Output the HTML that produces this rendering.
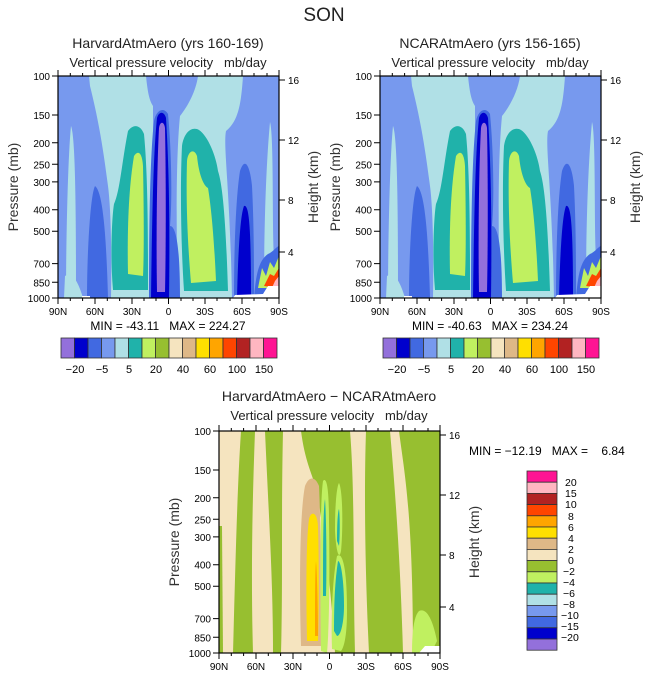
<!DOCTYPE html>
<html><head><meta charset="utf-8"><style>
html,body{margin:0;padding:0;background:#fff;}
svg{display:block;font-family:"Liberation Sans",sans-serif;}
</style></head><body>
<svg width="648" height="676" viewBox="0 0 648 676" xmlns="http://www.w3.org/2000/svg">
<defs>
<clipPath id="cp"><rect x="0" y="0" width="221" height="222"/></clipPath>
<g id="topfield">
 <rect x="0" y="0" width="221" height="222" fill="#7799EE"/>
 <!-- powder regions -->
 <path d="M31,0 L88,0 C90,20 92,25 95,30 L95,222 L53,222 C54,160 52,125 50,110 C46,80 42,50 32,10 Z" fill="#B0E0E6"/>
 <path d="M140,0 L185,0 C183,30 180,45 168,55 C165,70 172,110 174,222 L120,222 C118,150 118,80 122,40 C130,30 138,15 140,0 Z" fill="#B0E0E6"/>
 <path d="M8,222 C8,160 10,80 13,50 C17,60 18,120 18,222 Z" fill="#B0E0E6"/>
 <path d="M6,222 L7,200 C14,195 20,205 25,222 Z" fill="#B0E0E6"/>
 <path d="M206,222 C206,150 208,90 212,46 C216,60 214,150 216,180 L210,222 Z" fill="#B0E0E6"/>
 <!-- left blue strip -->
 <path d="M29,222 C29,180 32,120 37,110 C44,115 48,150 50,222 Z" fill="#4169E1"/>
 <!-- left teal/green -->
 <path d="M55,214 C52,180 54,140 56,128 C62,115 64,85 70,55 C75,48 82,48 86,58 C90,100 90,160 90,214 Z" fill="#20B2AA"/>
 <path d="M70,198 C69,150 71,110 76,80 C80,74 84,76 85,90 C86,140 86,180 85,200 Z" fill="#C0F060"/>
 <!-- center column -->
 <path d="M91,222 C91,150 92,80 96,45 C98,35 105,30 110,38 C114,80 114,130 112,150 C118,150 122,170 122,222 Z" fill="#4169E1"/>
 <path d="M93,222 C94,150 95,80 99,42 C101,35 106,35 108,42 C111,90 112,150 111,222 Z" fill="#0000CD"/>
 <path d="M99,216 C98,160 99,90 101,52 C102,45 106,45 107,52 C108,100 108,170 107,216 Z" fill="#9370DB"/>
 <!-- right teal/green -->
 <path d="M126,215 C123,170 122,110 124,70 C126,56 134,50 141,54 C150,60 158,80 160,95 C165,110 168,150 170,215 Z" fill="#20B2AA"/>
 <path d="M133,207 C129,160 128,120 129,85 C130,75 136,72 139,80 C141,100 146,110 150,112 C153,130 156,160 158,205 Z" fill="#C0F060"/>
 <!-- right blue -->
 <path d="M176,222 C176,170 178,120 182,95 C187,80 192,90 194,110 C196,150 196,190 196,222 Z" fill="#4169E1"/>
 <path d="M179,222 C180,180 182,140 186,130 C191,128 193,150 193,222 Z" fill="#0000CD"/>
 <path d="M196,222 C198,200 200,185 210,178 C215,176 219,170 221,170 L221,222 Z" fill="#4169E1"/>
 <path d="M200,212 L204,192 L208,200 L212,186 L216,192 L221,180 L221,205 L214,212 Z" fill="#C0F060"/>
 <path d="M206,210 L212,198 L216,200 L221,192 L221,212 Z" fill="#FF4500"/>
 <path d="M213,214 L217,205 L221,200 L221,214 Z" fill="#FFB6C1"/>
 <path d="M175,222 L177,219 L205,218 L210,210 L221,210 L221,222 Z" fill="#fff"/>
 <path d="M24,222 L24,220 L32,220 L32,222 Z" fill="#fff"/>
</g>
<g id="axes">
 <rect x="0" y="0" width="221" height="222" fill="none" stroke="#000" stroke-width="1.2"/>
 <path d="M0,222v6M37,222v6M74,222v6M110.5,222v6M147,222v6M184,222v6M221,222v6M0,0v-6M37,0v-6M74,0v-6M110.5,0v-6M147,0v-6M184,0v-6M221,0v-6
 M12.3,222v3M24.6,222v3M49.3,222v3M61.6,222v3M86,222v3M98,222v3M123,222v3M135,222v3M159,222v3M172,222v3M196,222v3M209,222v3
 M12.3,0v-3M24.6,0v-3M49.3,0v-3M61.6,0v-3M86,0v-3M98,0v-3M123,0v-3M135,0v-3M159,0v-3M172,0v-3M196,0v-3M209,0v-3
 M0,0h-6M0,39h-6M0,66.8h-6M0,88.3h-6M0,105.9h-6M0,133.7h-6M0,155.2h-6M0,187.6h-6M0,206.3h-6M0,222h-6
 M221,4h6M221,64h6M221,124h6M221,176h6" stroke="#000" stroke-width="1" fill="none"/>
</g>
<g id="xl" font-size="10" fill="#000" text-anchor="middle">
 <text x="0" y="239">90N</text><text x="37" y="239">60N</text><text x="74" y="239">30N</text><text x="110.5" y="239">0</text><text x="147" y="239">30S</text><text x="184" y="239">60S</text><text x="221" y="239">90S</text>
</g>
<g id="yl" font-size="10" fill="#000" text-anchor="end">
 <text x="-8" y="4">100</text><text x="-8" y="43">150</text><text x="-8" y="70.8">200</text><text x="-8" y="92.3">250</text><text x="-8" y="109.9">300</text><text x="-8" y="137.7">400</text><text x="-8" y="159.2">500</text><text x="-8" y="191.6">700</text><text x="-8" y="210.3">850</text><text x="-8" y="226">1000</text>
</g>
<g id="hl" font-size="10" fill="#000">
 <text x="230" y="8">16</text><text x="230" y="68">12</text><text x="230" y="128">8</text><text x="230" y="180">4</text>
</g>
<g id="hcb" stroke="#333" stroke-width="0.8">
 <rect x="0" width="13.5" height="20" fill="#9370DB"/><rect x="13.5" width="13.5" height="20" fill="#0000CD"/><rect x="27" width="13.5" height="20" fill="#4169E1"/><rect x="40.5" width="13.5" height="20" fill="#7799EE"/><rect x="54" width="13.5" height="20" fill="#B0E0E6"/><rect x="67.5" width="13.5" height="20" fill="#20B2AA"/><rect x="81" width="13.5" height="20" fill="#C0F060"/><rect x="94.5" width="13.5" height="20" fill="#97BF30"/><rect x="108" width="13.5" height="20" fill="#F5E4BF"/><rect x="121.5" width="13.5" height="20" fill="#DEB887"/><rect x="135" width="13.5" height="20" fill="#FFDF00"/><rect x="148.5" width="13.5" height="20" fill="#FFA500"/><rect x="162" width="13.5" height="20" fill="#FF4500"/><rect x="175.5" width="13.5" height="20" fill="#B22222"/><rect x="189" width="13.5" height="20" fill="#FFB6C1"/><rect x="202.5" width="13.5" height="20" fill="#FF1493"/>
</g>
</defs>

<text x="324" y="21" font-size="19" text-anchor="middle" fill="#222">SON</text>

<!-- Top-left -->
<text x="168" y="48" font-size="14" text-anchor="middle" fill="#222">HarvardAtmAero (yrs 160-169)</text>
<text x="168" y="67" font-size="13" text-anchor="middle" fill="#222">Vertical pressure velocity&#160;&#160;&#160;mb/day</text>
<g transform="translate(58,76)">
 <use href="#topfield" clip-path="url(#cp)"/>
 <use href="#axes"/><use href="#xl"/><use href="#yl"/><use href="#hl"/>
 <text x="110" y="254" font-size="12" text-anchor="middle">MIN = -43.11&#160;&#160;&#160;MAX = 224.27</text>
</g>
<text transform="translate(18,187) rotate(-90)" font-size="14" text-anchor="middle" fill="#333">Pressure (mb)</text>
<text transform="translate(318,187) rotate(-90)" font-size="14" text-anchor="middle" fill="#333">Height (km)</text>
<g transform="translate(61,338)"><use href="#hcb"/></g>
<g font-size="11" text-anchor="middle" fill="#000">
 <text x="75" y="373">−20</text><text x="102" y="373">−5</text><text x="129" y="373">5</text><text x="156" y="373">20</text><text x="183" y="373">40</text><text x="210" y="373">60</text><text x="237" y="373">100</text><text x="264" y="373">150</text>
</g>

<!-- Top-right -->
<text x="490" y="48" font-size="14" text-anchor="middle" fill="#222">NCARAtmAero (yrs 156-165)</text>
<text x="490" y="67" font-size="13" text-anchor="middle" fill="#222">Vertical pressure velocity&#160;&#160;&#160;mb/day</text>
<g transform="translate(380,76)">
 <use href="#topfield" clip-path="url(#cp)"/>
 <use href="#axes"/><use href="#xl"/><use href="#yl"/><use href="#hl"/>
 <text x="110" y="254" font-size="12" text-anchor="middle">MIN = -40.63&#160;&#160;&#160;MAX = 234.24</text>
</g>
<text transform="translate(340,187) rotate(-90)" font-size="14" text-anchor="middle" fill="#333">Pressure (mb)</text>
<text transform="translate(640,187) rotate(-90)" font-size="14" text-anchor="middle" fill="#333">Height (km)</text>
<g transform="translate(383,338)"><use href="#hcb"/></g>
<g font-size="11" text-anchor="middle" fill="#000">
 <text x="397" y="373">−20</text><text x="424" y="373">−5</text><text x="451" y="373">5</text><text x="478" y="373">20</text><text x="505" y="373">40</text><text x="532" y="373">60</text><text x="559" y="373">100</text><text x="586" y="373">150</text>
</g>

<!-- Bottom -->
<text x="329" y="401" font-size="14" text-anchor="middle" fill="#222">HarvardAtmAero − NCARAtmAero</text>
<text x="329" y="420" font-size="13" text-anchor="middle" fill="#222">Vertical pressure velocity&#160;&#160;&#160;mb/day</text>
<g transform="translate(219,431)">
 <g clip-path="url(#cp)">
  <rect x="0" y="0" width="221" height="222" fill="#F5E4BF"/>
  <path d="M0,222 L0,95 L3,95 L4,222 Z" fill="#97BF30"/>
  <path d="M14,222 C16,150 18,60 22,0 L36,0 C33,80 32,150 34,222 Z" fill="#97BF30"/>
  <path d="M46,0 L64,0 C62,90 64,150 62,222 L54,222 C54,150 50,90 46,0 Z" fill="#97BF30"/>
  <path d="M82,0 L221,0 L221,222 L116,222 C112,150 104,100 98,60 C92,40 86,30 82,0 Z" fill="#97BF30"/>
  <path d="M131,0 L147,0 C145,60 146,140 150,222 L136,222 C134,150 136,60 131,0 Z" fill="#F5E4BF"/>
  <path d="M171,0 L180,0 C185,40 194,80 194,222 L184,222 C182,150 178,80 171,0 Z" fill="#F5E4BF"/>
  <path d="M82,215 C80,150 81,80 86,55 C90,45 96,45 100,55 C102,100 102,160 102,215 Z" fill="#DEB887"/>
  <path d="M88,210 C87,160 87,110 90,88 C92,80 98,80 99,95 C100,130 100,180 99,210 Z" fill="#FFDF00"/>
  <path d="M96,205 C96,170 96,140 97,130 C98,140 99,180 99,205 Z" fill="#FFA500"/>
  <path d="M102,220 C101,150 101,70 104,50 C108,45 110,60 110,90 C111,150 110,200 108,222 Z" fill="#C0F060"/>
  <path d="M104,165 C104,120 104,80 106,68 C107,80 108,130 107,165 Z" fill="#20B2AA"/>
  <path d="M113,218 C112,190 113,150 118,125 C124,120 128,140 128,180 C128,200 126,215 122,220 Z" fill="#C0F060"/>
  <path d="M115,200 C115,170 116,150 119,130 C122,130 125,150 125,175 C125,190 122,205 118,205 Z" fill="#20B2AA"/>
  <path d="M116,100 C116,70 118,55 120,52 C124,60 124,100 122,120 C120,130 117,120 116,100 Z" fill="#C0F060"/>
  <path d="M118,110 C118,90 119,80 120,78 C121,85 121,105 120,115 Z" fill="#20B2AA"/>
  <path d="M193,222 C193,200 195,185 200,180 C208,176 214,190 218,210 L212,222 Z" fill="#C0F060"/>
  <path d="M200,222 L206,215 L221,215 L221,222 Z" fill="#fff"/>
 </g>
 <use href="#axes"/><use href="#xl"/><use href="#yl"/><use href="#hl"/>
</g>
<text transform="translate(179,542) rotate(-90)" font-size="14" text-anchor="middle" fill="#333">Pressure (mb)</text>
<text transform="translate(479,542) rotate(-90)" font-size="14" text-anchor="middle" fill="#333">Height (km)</text>
<text x="469" y="455" font-size="12" fill="#000">MIN = −12.19&#160;&#160;&#160;MAX =&#160;&#160;&#160;&#160;6.84</text>
<g stroke="#333" stroke-width="0.8">
 <rect x="527" y="471" width="30" height="11.2" fill="#FF1493"/><rect x="527" y="482.2" width="30" height="11.2" fill="#FFB6C1"/><rect x="527" y="493.4" width="30" height="11.2" fill="#B22222"/><rect x="527" y="504.6" width="30" height="11.2" fill="#FF4500"/><rect x="527" y="515.8" width="30" height="11.2" fill="#FFA500"/><rect x="527" y="527" width="30" height="11.2" fill="#FFDF00"/><rect x="527" y="538.2" width="30" height="11.2" fill="#DEB887"/><rect x="527" y="549.4" width="30" height="11.2" fill="#F5E4BF"/><rect x="527" y="560.6" width="30" height="11.2" fill="#97BF30"/><rect x="527" y="571.8" width="30" height="11.2" fill="#C0F060"/><rect x="527" y="583" width="30" height="11.2" fill="#20B2AA"/><rect x="527" y="594.2" width="30" height="11.2" fill="#B0E0E6"/><rect x="527" y="605.4" width="30" height="11.2" fill="#7799EE"/><rect x="527" y="616.6" width="30" height="11.2" fill="#4169E1"/><rect x="527" y="627.8" width="30" height="11.2" fill="#0000CD"/><rect x="527" y="639" width="30" height="11.2" fill="#9370DB"/>
</g>
<g font-size="10.5" fill="#000">
 <text x="565" y="486">20</text><text x="565" y="497">15</text><text x="565" y="508">10</text><text x="568" y="520">8</text><text x="568" y="531">6</text><text x="568" y="542">4</text><text x="568" y="553">2</text><text x="568" y="564">0</text><text x="563" y="575">−2</text><text x="563" y="586">−4</text><text x="563" y="597">−6</text><text x="563" y="608">−8</text><text x="561" y="619">−10</text><text x="561" y="630">−15</text><text x="561" y="641">−20</text>
</g>
</svg>
</body></html>
